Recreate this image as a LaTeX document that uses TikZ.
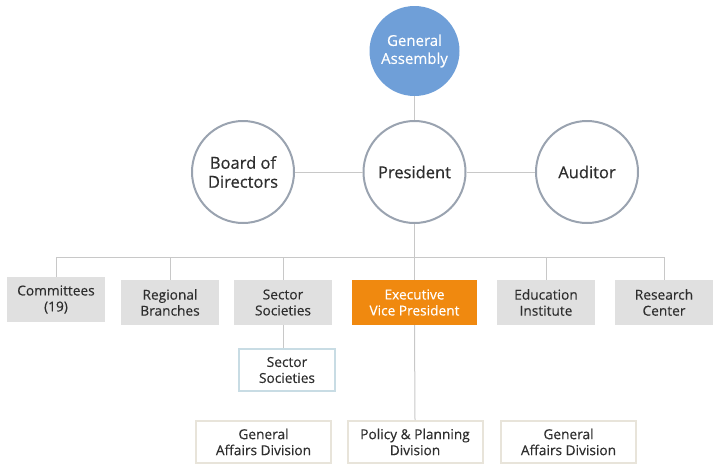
\documentclass[tikz,border=0pt]{standalone}
\usepackage{fontspec}
\setmainfont{Open Sans}
\newfontfamily\heavyfont[FakeBold=0.6]{Open Sans}
\newfontfamily\midfont[FakeBold=0.3]{Open Sans}
\definecolor{gablue}{HTML}{6F9FD8}
\definecolor{ring}{HTML}{9AA3B0}
\definecolor{link}{HTML}{C8C8C8}
\definecolor{boxgrey}{HTML}{E0E0E0}
\definecolor{txt}{HTML}{2E2E2E}
\definecolor{evp}{HTML}{F0890F}
\definecolor{subblue}{HTML}{C8DCE4}
\definecolor{beige}{HTML}{E8E4DA}
\begin{document}
\begin{tikzpicture}[x=1pt,y=-1pt,
  every node/.style={align=center,text=txt,inner sep=0pt,font=\midfont\fontsize{13.7}{16}\selectfont},
  circ/.style={circle,draw=ring,line width=2pt,fill=white,minimum size=102pt,font=\heavyfont\fontsize{16.5}{19}\selectfont},
  gbox/.style={rectangle,fill=boxgrey,minimum width=98pt,minimum height=45pt},
  subbox/.style={rectangle,draw=subblue,line width=2pt,fill=white,minimum width=96pt,minimum height=42pt},
  divbox/.style={rectangle,draw=beige,line width=2pt,fill=white,minimum width=135pt,minimum height=42pt},
  conn/.style={draw=link,line width=1pt}]
\useasboundingbox (0,0) rectangle (722,471);
% nodes
\node[circle,fill=gablue,minimum size=90pt,text=white,font=\midfont\fontsize{15}{18}\selectfont] (ga) at (414.5,51) {General\\Assembly};
\node[circ] (pres) at (414.5,172) {President};
\node[circ] (board) at (243,172) {Board of\\Directors};
\node[circ] (aud) at (587,172) {Auditor};
\coordinate (bus) at (414.5,257);
\node[gbox] (com) at (56,299.5) {Committees\\(19)};
\node[gbox] (reg) at (170,302.5) {Regional\\Branches};
\node[gbox] (sec) at (283,302.5) {Sector\\Societies};
\node[gbox,fill=evp,text=white,minimum width=125pt] (evpn) at (414.5,302.5) {Executive\\Vice President};
\node[gbox] (edu) at (546,302.5) {Education\\Institute};
\node[gbox] (res) at (664,302.5) {Research\\Center};
\node[subbox] (ssub) at (287,370) {Sector\\Societies};
\node[divbox] (ga1) at (263.5,442) {General\\Affairs Division};
\node[divbox] (pol) at (415,442) {Policy \& Planning\\Division};
\node[divbox] (ga2) at (568.5,442) {General\\Affairs Division};
% connectors
\path[conn] (ga.south) -- (pres.north);
\path[conn] (board.east) -- (pres.west);
\path[conn] (pres.east) -- (aud.west);
\path[conn] (pres.south) -- (bus);
\path[conn] (bus) -- (evpn.north);
\path[conn] (com.north) -- (com.north |- bus) -- (res.north |- bus) -- (res.north);
\path[conn] (reg.north |- bus) -- (reg.north);
\path[conn] (sec.north |- bus) -- (sec.north);
\path[conn] (edu.north |- bus) -- (edu.north);
\path[conn] (sec.south) -- (sec.south |- ssub.north);
\path[conn] (evpn.south) -- (pol.north);
\end{tikzpicture}
\end{document}
